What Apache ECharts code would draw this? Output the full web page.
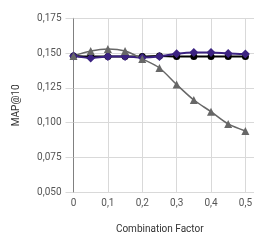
<!DOCTYPE html>
<html>
<head>
<meta charset="utf-8">
<script src="https://cdn.jsdelivr.net/npm/echarts@6/dist/echarts.min.js"></script>
<style>html,body{margin:0;padding:0;background:#fff}#c{width:266px;height:247px}</style>
</head>
<body>
<div id="c"></div>
<script>
const factors = [0, 0.05, 0.1, 0.15, 0.2, 0.25, 0.3, 0.35, 0.4, 0.45, 0.5];
const blackSeries = [0.148, 0.1475, 0.1476, 0.1476, 0.1476, 0.148, 0.1476, 0.1476, 0.1476, 0.1476, 0.1476];
const purpleSeries = [0.148, 0.1465, 0.1476, 0.1476, 0.1468, 0.1476, 0.1495, 0.1504, 0.1504, 0.1497, 0.1493];
const graySeries = [0.148, 0.1515, 0.153, 0.1515, 0.1458, 0.1393, 0.1274, 0.1163, 0.1079, 0.0991, 0.094];
const yTicks = [0.050, 0.075, 0.100, 0.125, 0.150, 0.175];
const xTicks = [0, 0.1, 0.2, 0.3, 0.4, 0.5];

const pair = arr => factors.map((x, i) => [x, arr[i]]);
const fmt = (v, d) => (d === 0 && v === 0 ? '0' : v.toFixed(d)).replace('.', ',');

const chart = echarts.init(document.getElementById('c'));
chart.setOption({
  animation: false,
  textStyle: { fontFamily: 'Roboto' },
  grid: { left: 73.5, right: 12, top: 18.3, bottom: 54.7 },
  xAxis: {
    type: 'value', min: xTicks[0], max: 0.525, interval: 0.1,
    name: 'Combination Factor', nameLocation: 'middle', nameGap: 32,
    nameTextStyle: { color: '#333', fontSize: 10, padding: [0, 8, 0, 0] },
    axisLine: { show: false }, axisTick: { show: false },
    axisLabel: { color: '#555', fontSize: 10, margin: 6, showMaxLabel: false,
      formatter: v => xTicks.some(t => Math.abs(t - v) < 1e-9) ? (v === 0 ? '0' : fmt(v, 1)) : '' },
    splitLine: { show: true, showMinLine: false, showMaxLine: false, lineStyle: { color: '#d9d9d9', width: 1 } }
  },
  yAxis: {
    type: 'value', min: yTicks[0], max: yTicks[yTicks.length - 1], interval: 0.025,
    name: 'MAP@10', nameLocation: 'middle', nameGap: 52,
    nameTextStyle: { color: '#333', fontSize: 10 },
    axisLine: { show: true, lineStyle: { color: '#808080', width: 1 } },
    axisTick: { show: true, length: 8, lineStyle: { color: '#d9d9d9' } },
    axisLabel: { color: '#555', fontSize: 10, margin: 12, formatter: v => fmt(v, 3) },
    splitLine: { show: true, lineStyle: { color: '#d9d9d9', width: 1 } }
  },
  series: [
    { type: 'line', data: pair(blackSeries), smooth: 0.3, symbol: 'circle', symbolSize: 7,
      itemStyle: { color: '#000' }, lineStyle: { color: '#000', width: 2 } },
    { type: 'line', data: pair(purpleSeries), smooth: 0.3, symbol: 'diamond', symbolSize: 9,
      itemStyle: { color: '#3b2281' }, lineStyle: { color: '#3b2281', width: 2 } },
    { type: 'line', data: pair(graySeries), smooth: 0.3, symbol: 'triangle', symbolSize: 8,
      itemStyle: { color: '#676767' }, lineStyle: { color: '#676767', width: 1.5 } }
  ]
});
</script>
</body>
</html>
